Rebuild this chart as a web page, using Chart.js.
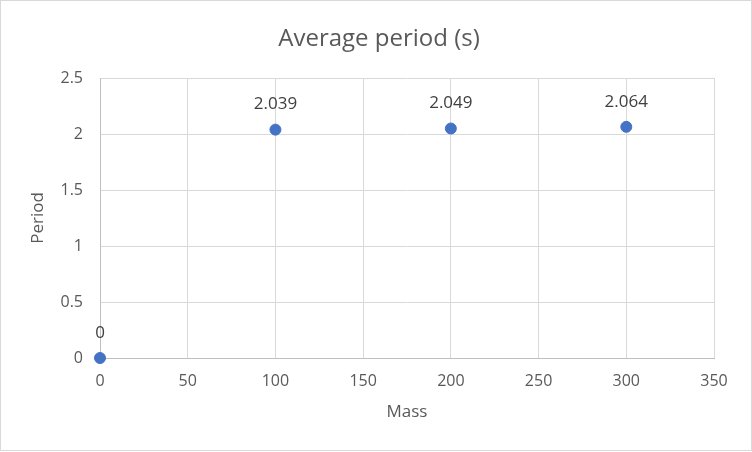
<!DOCTYPE html>
<html>
<head>
<meta charset="utf-8">
<script src="https://cdn.jsdelivr.net/npm/chart.js@4.4.1/dist/chart.umd.min.js"></script>
<style>
  html, body { margin: 0; padding: 0; background: #fff; }
  #wrap { width: 752px; height: 452px; }
</style>
</head>
<body>
<div id="wrap"><canvas id="chart" width="752" height="452"></canvas></div>
<script>
const masses = [0, 100, 200, 300];
const periods = [0, 2.039, 2.049, 2.064];
const labels = ['0', '2.039', '2.049', '2.064'];
const chartTitle = 'Average period (s)';

const FONT = "'Open Sans', sans-serif";

// titre, etiquettes au-dessus des points, cadre gris
const extras = {
  id: 'extras',
  afterDatasetsDraw(chart) {
    const ctx = chart.ctx;
    const meta = chart.getDatasetMeta(0);
    ctx.save();
    ctx.font = '17px ' + FONT;
    ctx.fillStyle = '#404040';
    ctx.textAlign = 'center';
    ctx.textBaseline = 'middle';
    meta.data.forEach((pt, i) => {
      ctx.fillText(labels[i], pt.x, pt.y - 25);
    });
    ctx.restore();
  },
  afterDraw(chart) {
    const ctx = chart.ctx;
    ctx.save();
    ctx.font = '24px ' + FONT;
    ctx.fillStyle = '#595959';
    ctx.textAlign = 'center';
    ctx.textBaseline = 'middle';
    ctx.fillText(chartTitle, 379, 39);
    ctx.strokeStyle = '#d9d9d9';
    ctx.lineWidth = 1;
    ctx.strokeRect(0.5, 0.5, 751, 450);
    ctx.restore();
  }
};

new Chart(document.getElementById('chart'), {
  type: 'scatter',
  data: {
    datasets: [{
      data: masses.map((m, i) => ({ x: m, y: periods[i] })),
      backgroundColor: '#4472C4',
      borderColor: '#4472C4',
      pointRadius: 5.5,
      pointHoverRadius: 5.5,
      clip: false
    }]
  },
  options: {
    responsive: false,
    animation: false,
    layout: { padding: { left: 0, right: 38, top: 78, bottom: 0 } },
    plugins: {
      legend: { display: false },
      tooltip: { enabled: false },
      title: { display: false }
    },
    scales: {
      x: {
        type: 'linear',
        min: 0,
        max: 350,
        ticks: { stepSize: 50, color: '#595959', font: { family: FONT, size: 16 }, padding: 14 },
        grid: {
          drawTicks: false,
          color: (c) => c.tick && c.tick.value === 0 ? '#bfbfbf' : '#d9d9d9'
        },
        border: { display: true, color: '#bfbfbf' },
        title: {
          display: true,
          text: 'Mass',
          color: '#595959',
          font: { family: FONT, size: 17, lineHeight: 1.2 },
          padding: { top: 0, bottom: 29.8 }
        },
        afterFit(s) { s.height = 94; }
      },
      y: {
        type: 'linear',
        min: 0,
        max: 2.5,
        ticks: {
          stepSize: 0.5,
          color: '#595959',
          font: { family: FONT, size: 16 },
          padding: 17,
          callback: (v) => String(v)
        },
        grid: {
          drawTicks: false,
          color: (c) => c.tick && c.tick.value === 0 ? '#bfbfbf' : '#d9d9d9'
        },
        border: { display: true, color: '#bfbfbf' },
        title: {
          display: true,
          text: 'Period',
          color: '#595959',
          font: { family: FONT, size: 17, lineHeight: 1.2 },
          padding: { top: 27.8, bottom: 0 }
        },
        afterFit(s) { s.width = 100; }
      }
    }
  },
  plugins: [extras]
});
</script>
</body>
</html>
